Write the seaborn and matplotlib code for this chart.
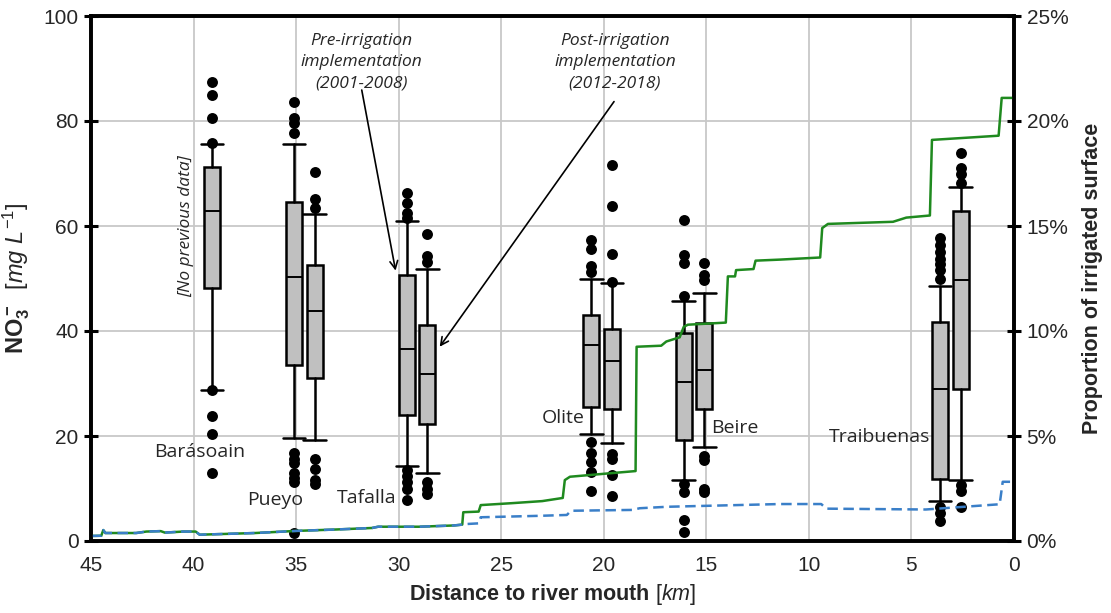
import matplotlib
matplotlib.use("Agg")
import matplotlib.pyplot as plt
import seaborn as sns
import pandas as pd
from matplotlib.ticker import PercentFormatter

# ---------------- data ----------------
sites = ["Barásoain", "Pueyo", "Tafalla", "Olite", "Beire", "Traibuenas"]
site_label_km = [39.7, 36.0, 31.55, 22.0, 13.6, 6.55]
site_label_no3 = [17.0, 7.8, 8.2, 23.4, 21.5, 19.8]

box_site = ["Barásoain", "Pueyo", "Pueyo", "Tafalla", "Tafalla", "Olite", "Olite",
            "Beire", "Beire", "Traibuenas", "Traibuenas"]
box_period = ["post", "pre", "post", "pre", "post", "pre", "post", "pre", "post", "pre", "post"]
box_km = [39.1, 35.1, 34.1, 29.6, 28.6, 20.6, 19.6, 16.1, 15.1, 3.6, 2.6]
box_whislo = [28.8, 19.7, 19.2, 14.3, 12.9, 20.4, 18.7, 11.6, 18.0, 7.6, 11.6]
box_q1 = [48.1, 33.6, 31.0, 24.0, 22.2, 25.5, 25.1, 19.2, 25.1, 11.9, 29.0]
box_med = [62.9, 50.2, 43.9, 36.6, 31.9, 37.3, 34.3, 30.2, 32.6, 29.0, 49.7]
box_q3 = [71.2, 64.5, 52.6, 50.7, 41.1, 43.0, 40.3, 39.6, 41.6, 41.8, 62.9]
box_whishi = [75.7, 75.6, 62.3, 61.0, 51.9, 49.9, 49.1, 45.8, 47.3, 48.6, 67.4]
box_fliers = [
    [87.5, 85.0, 80.6, 75.9, 28.7, 23.9, 20.3, 12.9],
    [83.7, 80.5, 79.6, 77.8, 16.8, 15.6, 14.9, 12.9, 12.0, 11.2, 1.5],
    [70.3, 65.1, 63.4, 15.6, 13.7, 11.6, 10.9],
    [66.3, 64.4, 62.4, 61.5, 13.5, 12.3, 11.3, 10.0, 7.9],
    [58.4, 54.2, 53.2, 11.3, 10.0, 8.9],
    [57.3, 55.6, 52.3, 51.3, 18.8, 16.7, 15.1, 13.2, 9.6],
    [71.6, 63.9, 54.6, 49.4, 16.6, 15.7, 12.6, 8.6],
    [61.1, 54.5, 52.9, 46.7, 10.9, 9.4, 4.0, 1.7],
    [52.9, 50.7, 49.7, 16.1, 15.4, 10.0, 9.4],
    [57.7, 56.4, 55.1, 53.8, 52.8, 51.6, 50.0, 6.5, 5.3, 3.9],
    [74.0, 71.0, 70.0, 68.2, 10.7, 9.6, 6.5],
]

# proportion of irrigated surface [%], post-irrigation (green) and pre-irrigation (blue)
green_km = [45, 44.5, 44.4, 44.3, 42.8, 42.3, 41.6, 41.4, 40.5, 39.9, 39.7, 37, 35, 33, 31.3,
            31.0, 29, 27.3, 26.9, 26.85, 26.1, 26.0, 24.5, 23.0, 22.0, 21.9, 21.65, 20.0, 18.45,
            18.4, 17.2, 16.95, 16.3, 16.1, 15.9, 14.05, 13.95, 13.6, 13.55, 12.7, 12.6, 11.4,
            9.45, 9.35, 9.07, 5.9, 5.25, 4.1, 4.0, 0.75, 0.6, 0.0]
green_pct = [0.24, 0.25, 0.52, 0.38, 0.38, 0.45, 0.47, 0.40, 0.45, 0.45, 0.30, 0.38, 0.48, 0.55,
             0.62, 0.68, 0.68, 0.74, 0.78, 1.37, 1.40, 1.71, 1.80, 1.90, 2.05, 2.90, 3.06, 3.20,
             3.33, 9.25, 9.30, 9.50, 9.70, 10.2, 10.3, 10.4, 12.6, 12.6, 12.9, 12.95, 13.35, 13.4,
             13.5, 14.9, 15.1, 15.2, 15.4, 15.5, 19.1, 19.3, 21.1, 21.1]
blue_km = [45, 44.5, 44.4, 44.3, 42.8, 42.3, 41.6, 41.4, 40.5, 39.9, 39.7, 37, 35, 33, 31.3,
           31.0, 29, 27.3, 26.9, 26.85, 26.1, 26.0, 23.1, 21.8, 21.6, 18.6, 18.25, 16.9, 11.4,
           9.4, 9.15, 4.3, 0.7, 0.55, 0.0]
blue_pct = [0.24, 0.25, 0.52, 0.38, 0.38, 0.45, 0.47, 0.40, 0.45, 0.45, 0.30, 0.38, 0.48, 0.55,
            0.62, 0.68, 0.68, 0.74, 0.78, 0.80, 0.84, 1.13, 1.20, 1.24, 1.44, 1.48, 1.56, 1.63,
            1.76, 1.76, 1.54, 1.50, 1.75, 2.82, 2.82]

x_ticks = [45, 40, 35, 30, 25, 20, 15, 10, 5, 0]
y_ticks = [0, 20, 40, 60, 80, 100]
pct_ticks = [0, 5, 10, 15, 20, 25]

# ---------------- style ----------------
sns.set_theme(style="white")
plt.rcParams["font.family"] = ["Liberation Sans", "DejaVu Sans"]
plt.rcParams["mathtext.fontset"] = "custom"
plt.rcParams["mathtext.rm"] = "Liberation Sans"
plt.rcParams["mathtext.it"] = "Liberation Sans:italic"
plt.rcParams["mathtext.bf"] = "Liberation Sans:bold"

fig = plt.figure(figsize=(11.11, 6.13), dpi=100)
ax = fig.add_axes([91 / 1111, 72 / 613, (1014 - 91) / 1111, (541 - 16) / 613])

ax.set_xlim(45, 0)
ax.set_ylim(0, 100)
ax.set_xticks(x_ticks)
ax.set_yticks(y_ticks)
ax.grid(True, color="#c8c8c8", lw=1.3, zorder=0)
ax.set_axisbelow(True)

stats = []
for i in range(len(box_km)):
    stats.append(dict(med=box_med[i], q1=box_q1[i], q3=box_q3[i],
                      whislo=box_whislo[i], whishi=box_whishi[i], fliers=[]))
ax.bxp(stats, positions=box_km, widths=0.78, capwidths=1.1, showfliers=False,
       patch_artist=True, manage_ticks=False,
       boxprops=dict(facecolor="#c0c0c0", edgecolor="black", lw=1.8),
       medianprops=dict(color="black", lw=1.4),
       whiskerprops=dict(color="black", lw=1.8),
       capprops=dict(color="black", lw=1.8))

fl = pd.DataFrame({
    "km": [box_km[i] for i in range(len(box_km)) for _ in box_fliers[i]],
    "no3": [v for f in box_fliers for v in f],
})
sns.scatterplot(data=fl, x="km", y="no3", ax=ax, color="black", s=62, linewidth=0, zorder=5)

site_font = ["Open Sans", "DejaVu Sans"]
for s, kx, ky in zip(sites, site_label_km, site_label_no3):
    ax.text(kx, ky, s, ha="center", va="center", fontsize=14, family=site_font, zorder=6)
ax.text(40.35, 60, "[No previous data]", rotation=90, ha="center", va="center",
        fontsize=12.5, style="italic", family=site_font, zorder=6)

ann_kw = dict(ha="center", va="center", fontsize=12.5, style="italic", family=site_font,
              linespacing=1.45, zorder=6)
ax.text(31.8, 91.2, "Pre-irrigation\nimplementation\n(2001-2008)", **ann_kw)
ax.text(19.45, 91.2, "Post-irrigation\nimplementation\n(2012-2018)", **ann_kw)
arrow_kw = dict(arrowstyle="->", color="black", lw=1.2, shrinkA=0, shrinkB=0, mutation_scale=14)
ax.annotate("", xy=(30.15, 51.5), xytext=(31.8, 85.9), arrowprops=arrow_kw)
ax.annotate("", xy=(28.0, 37.0), xytext=(19.5, 83.7), arrowprops=arrow_kw)

ax2 = ax.twinx()
sns.lineplot(x=green_km, y=green_pct, ax=ax2, sort=False, estimator=None,
             color="#1f8a1f", lw=1.8)
sns.lineplot(x=blue_km, y=blue_pct, ax=ax2, sort=False, estimator=None,
             color="#3a7fc8", lw=1.8, linestyle=(0, (4.2, 2.2)))
ax2.set_ylim(0, 25)
ax2.set_yticks(pct_ticks)
ax2.yaxis.set_major_formatter(PercentFormatter(xmax=100, decimals=0))
ax2.set_xlim(45, 0)

for a in (ax, ax2):
    for sp in a.spines.values():
        sp.set_linewidth(2.6)
        sp.set_color("black")
    a.tick_params(axis="both", direction="inout", length=10, width=2.2, color="black",
                  labelsize=15, labelcolor="#262626")
ax.tick_params(axis="x", pad=6)
ax.tick_params(axis="y", pad=4)
ax2.tick_params(axis="y", pad=4)

ax.set_xlabel(r"$\mathbf{Distance\ to\ river\ mouth}$ $\mathit{[km]}$", fontsize=15.5, labelpad=5)
ax.set_ylabel(r"$\mathbf{NO_3^-}$  $\mathit{[mg\ L^{-1}]}$", fontsize=17, labelpad=8)
ax2.set_ylabel("Proportion of irrigated surface", fontsize=15.5, fontweight="bold", labelpad=10)

fig.savefig("out.png", dpi=100)
